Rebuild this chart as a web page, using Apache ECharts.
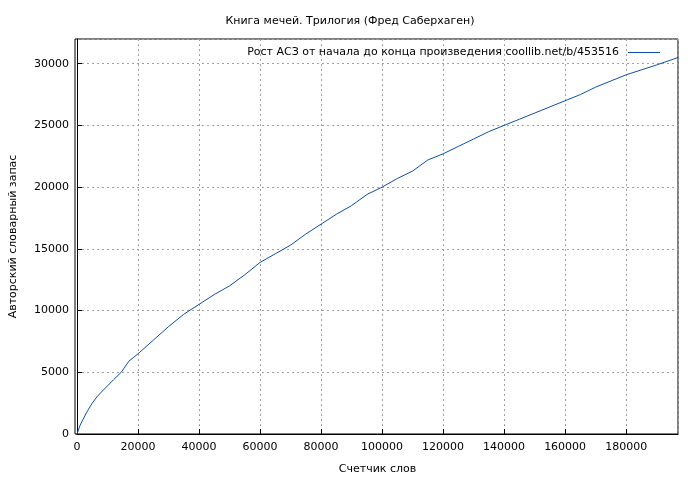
<!DOCTYPE html>
<html><head><meta charset="utf-8">
<script src="https://cdn.jsdelivr.net/npm/echarts@6/dist/echarts.min.js"></script>
<style>html,body{margin:0;padding:0;background:#fff}#c{width:700px;height:480px}</style>
</head><body><div id="c"></div>
<script>
const xWords = [0,1000,2000,3500,5000,6500,8000,10000,12000,14500,17000,20000,25000,30000,35000,40000,45000,50000,55000,60000,65000,70000,75000,80000,85000,90000,95000,100000,105000,110000,115000,120000,125000,130000,135000,140000,145000,150000,155000,160000,165000,170000,175000,180000,185000,190000,197000];
const yVocab = [0,700,1200,1900,2500,3000,3400,3900,4400,5000,5900,6500,7600,8700,9700,10500,11300,12000,12900,13900,14600,15300,16200,17000,17800,18500,19400,20000,20700,21300,22200,22700,23300,23900,24500,25000,25500,26000,26500,27000,27500,28100,28600,29100,29500,29900,30500];
const seriesName = 'Рост АСЗ от начала до конца произведения coollib.net/b/453516';
const data = xWords.map((x,i)=>[x,yVocab[i]]);
const font = 'DejaVu Sans';
const chart = echarts.init(document.getElementById('c'));
chart.setOption({
  animation:false,
  textStyle:{fontFamily:font},
  title:{text:'Книга мечей. Трилогия (Фред Саберхаген)',left:'center',top:11,textStyle:{fontSize:11,fontWeight:'normal',color:'#000',fontFamily:font}},
  grid:{left:75,right:22,top:39,bottom:46},
  legend:{top:42,right:35,align:'right',itemWidth:32,itemHeight:1,icon:'rect',itemGap:0,
    textStyle:{fontSize:11,color:'#000',fontFamily:font,padding:[0,4,0,0]},data:[seriesName]},
  xAxis:{type:'value',min:0,max:197000,interval:20000,name:'Счетчик слов',nameLocation:'middle',nameGap:30,
    nameTextStyle:{fontSize:11,color:'#000'},
    axisLine:{show:true,lineStyle:{color:'#000'}},axisTick:{inside:true,length:5,lineStyle:{color:'#000'}},
    axisLabel:{fontSize:11,color:'#000',showMaxLabel:false,formatter:v=>String(v)},
    splitLine:{show:true,lineStyle:{color:'#a0a0a0',type:[2,3]}}},
  yAxis:{type:'value',min:0,max:32000,interval:5000,name:'Авторский словарный запас',nameLocation:'middle',nameGap:58,
    nameTextStyle:{fontSize:11,color:'#000'},
    axisLine:{show:true,lineStyle:{color:'#000'}},axisTick:{inside:true,length:5,lineStyle:{color:'#000'}},
    axisLabel:{fontSize:11,color:'#000',showMaxLabel:false,formatter:v=>String(v)},
    splitLine:{show:true,lineStyle:{color:'#a0a0a0',type:[2,3]}}},
  series:[{name:seriesName,type:'line',data:data,showSymbol:false,smooth:false,
    lineStyle:{color:'#0a50b0',width:1},itemStyle:{color:'#0a50b0'}}],
  graphic:[{type:'rect',shape:{x:75,y:39,width:603,height:395},style:{fill:'none',stroke:'#000',lineWidth:1},silent:true}]
});
</script></body></html>
